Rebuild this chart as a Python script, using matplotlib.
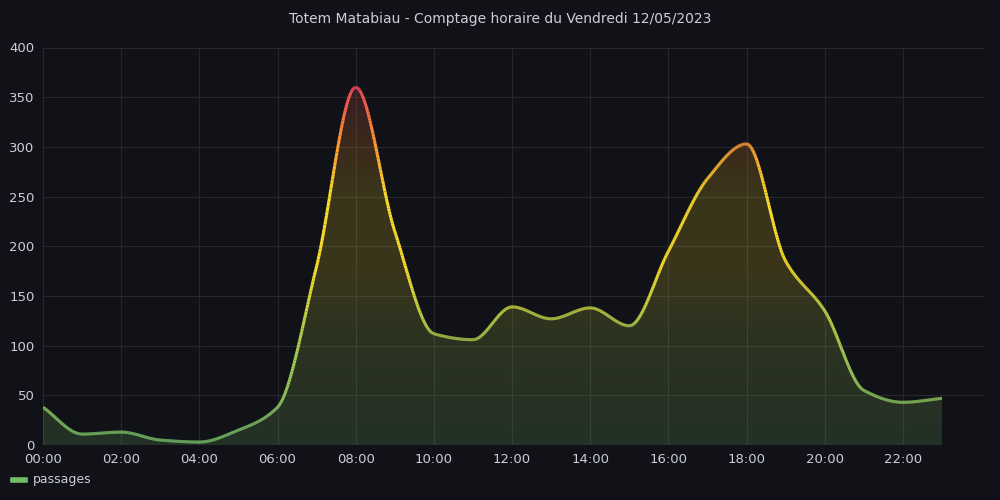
import matplotlib.pyplot as plt
import numpy as np
from matplotlib.collections import LineCollection
from matplotlib.colors import LinearSegmentedColormap
from matplotlib.patches import Polygon

HOURS = np.arange(24)
PASSAGES = [38, 11, 13, 5, 3, 15, 38, 180, 360, 215, 112, 106,
            139, 127, 138, 120, 195, 268, 303, 185, 135, 55, 43, 47]
TICK_HOURS = list(range(0, 24, 2))
TICK_LABELS = [f"{h:02d}:00" for h in TICK_HOURS]

BG = "#111217"
TEXT = "#ccccdc"
GRID = "#26272c"


def pchip(x, y, xs):
    """Monotone cubic (Fritsch-Carlson), like Grafana's smooth line."""
    x, y = np.asarray(x, float), np.asarray(y, float)
    h = np.diff(x)
    d = np.diff(y) / h
    m = np.zeros_like(y)
    for k in range(1, len(y) - 1):
        if d[k - 1] * d[k] > 0:
            w1, w2 = 2 * h[k] + h[k - 1], h[k] + 2 * h[k - 1]
            m[k] = (w1 + w2) / (w1 / d[k - 1] + w2 / d[k])
    m[0], m[-1] = d[0], d[-1]
    idx = np.clip(np.searchsorted(x, xs) - 1, 0, len(x) - 2)
    t = (xs - x[idx]) / h[idx]
    h00 = 2 * t**3 - 3 * t**2 + 1
    h10 = t**3 - 2 * t**2 + t
    h01 = -2 * t**3 + 3 * t**2
    h11 = t**3 - t**2
    return (h00 * y[idx] + h10 * h[idx] * m[idx]
            + h01 * y[idx + 1] + h11 * h[idx] * m[idx + 1])


cmap = LinearSegmentedColormap.from_list(
    "scheme", [(0.0, "#73BF69"), (0.3, "#B5CF4A"), (0.45, "#FADE2A"),
               (0.62, "#FADE2A"), (0.76, "#FF9830"), (0.9, "#F2495C"),
               (1.0, "#F2495C")])

xs = np.linspace(0, 23, 1200)
ys = pchip(HOURS, PASSAGES, xs)

fig = plt.figure(figsize=(10, 5), dpi=100, facecolor=BG)
ax = fig.add_axes([0.043, 0.11, 0.942, 0.795], facecolor=BG)

# gradient fill under the curve
grad = np.linspace(0, 1, 256)[:, None]
img = ax.imshow(grad, cmap=cmap, aspect="auto", origin="lower",
                extent=[0, 23, 0, 400], vmin=0, vmax=1, alpha=0.18, zorder=1)
poly = Polygon(np.column_stack([np.r_[0, xs, 23], np.r_[0, ys, 0]]),
               closed=True, transform=ax.transData, facecolor="none",
               edgecolor="none")
ax.add_patch(poly)
img.set_clip_path(poly)

pts = np.column_stack([xs, ys]).reshape(-1, 1, 2)
segs = np.concatenate([pts[:-1], pts[1:]], axis=1)
lc = LineCollection(segs, cmap=cmap, norm=plt.Normalize(0, 400),
                    linewidth=2.2, zorder=3)
lc.set_array((ys[:-1] + ys[1:]) / 2)
ax.add_collection(lc)

ax.set_xlim(0, 24.1)
ax.set_ylim(0, 400)
ax.set_xticks(TICK_HOURS, TICK_LABELS)
ax.set_yticks(range(0, 401, 50))
ax.grid(color=GRID, linewidth=0.8)
ax.set_axisbelow(True)
ax.tick_params(colors=TEXT, labelsize=9.5, length=0, pad=6)
for s in ax.spines.values():
    s.set_visible(False)

fig.suptitle("Totem Matabiau - Comptage horaire du Vendredi 12/05/2023",
             color=TEXT, fontsize=10, y=0.975)
fig.lines.append(plt.Line2D([0.013, 0.025], [0.04, 0.04], color="#73BF69",
                            linewidth=4, transform=fig.transFigure))
fig.text(0.033, 0.04, "passages", color=TEXT, fontsize=9, va="center")

fig.savefig("out.png", facecolor=BG)
